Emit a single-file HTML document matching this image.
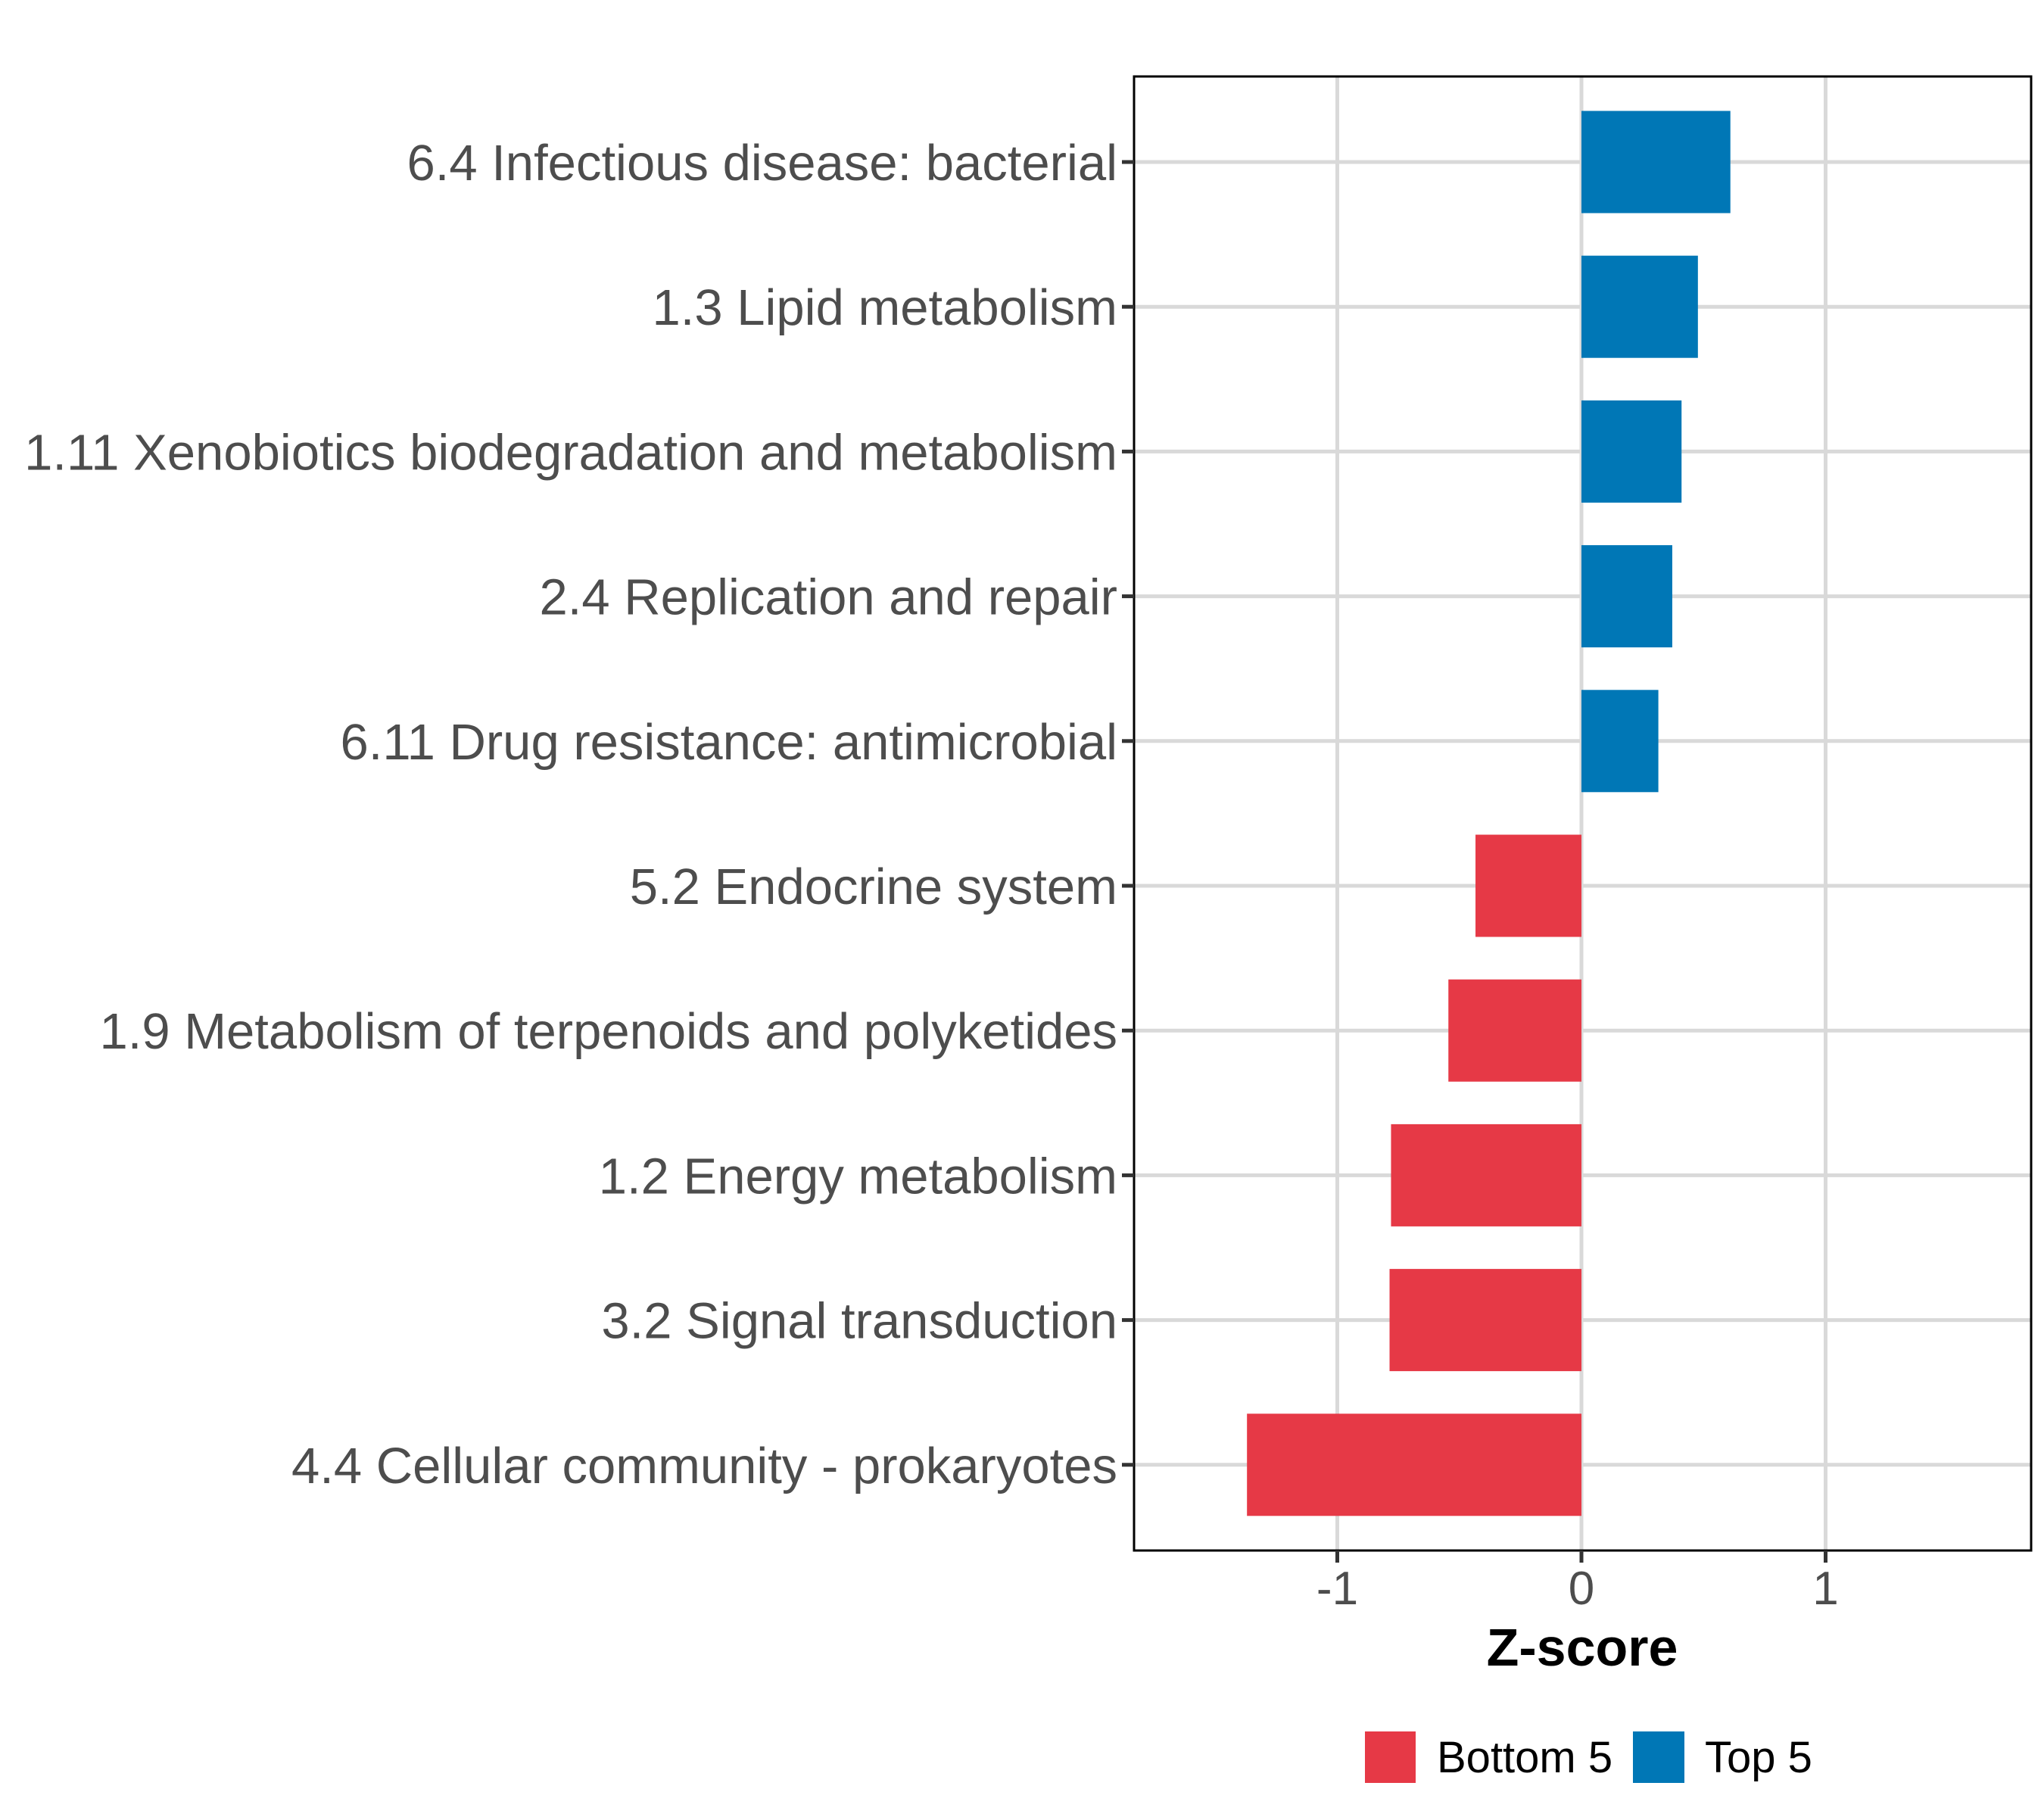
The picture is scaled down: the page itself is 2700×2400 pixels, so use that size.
<!DOCTYPE html>
<html><head><meta charset="utf-8"><style>
html,body{margin:0;padding:0;background:#fff;}
svg{display:block;font-family:"Liberation Sans",Arial,sans-serif;}
</style></head><body>
<svg id="chart" width="2700" height="2400" viewBox="0 0 2700 2400">
<rect x="0" y="0" width="2700" height="2400" fill="#fff"/>
<g id="grid"></g>
<g id="bars"></g>
<rect x="1498" y="101" width="1185" height="1947" fill="none" stroke="#000" stroke-width="3"/>
<g id="yaxis"></g>
<g id="xaxis"></g>
<text x="2090" y="2200" text-anchor="middle" font-size="70" font-weight="bold" fill="#000">Z-score</text>
<g>
<rect x="1803" y="2287" width="67" height="68" fill="#E63946"/>
<text x="1898" y="2341" font-size="58" fill="#000">Bottom 5</text>
<rect x="2157" y="2287" width="68" height="68" fill="#0077B6"/>
<text x="2252" y="2341" font-size="58" fill="#000">Top 5</text>
</g>
</svg>
<script>
const categories = ["6.4 Infectious disease: bacterial","1.3 Lipid metabolism","1.11 Xenobiotics biodegradation and metabolism","2.4 Replication and repair","6.11 Drug resistance: antimicrobial","5.2 Endocrine system","1.9 Metabolism of terpenoids and polyketides","1.2 Energy metabolism","3.2 Signal transduction","4.4 Cellular community - prokaryotes"];
const zscores = [0.61, 0.477, 0.41, 0.372, 0.315, -0.434, -0.545, -0.78, -0.786, -1.37];
const groups = ["Top 5","Top 5","Top 5","Top 5","Top 5","Bottom 5","Bottom 5","Bottom 5","Bottom 5","Bottom 5"];
const xTicks = [-1, 0, 1];
const xTickLabels = ["-1","0","1"];

const NS = "http://www.w3.org/2000/svg";
const PL = 1498, PR = 2683, PT = 101, PB = 2048;
const X0 = 2089, UNIT = 322.5;
function xs(v){ return X0 + v * UNIT; }
function ys(i){ return 214 + i * 191.2; }
const BAR_H = 135;
const colors = {"Top 5":"#0077B6","Bottom 5":"#E63946"};
function mk(tag, attrs, parent){ const e=document.createElementNS(NS,tag); for(const k in attrs) e.setAttribute(k,attrs[k]); parent.appendChild(e); return e; }

const grid = document.getElementById('grid');
const bars = document.getElementById('bars');
const yaxis = document.getElementById('yaxis');
const xaxis = document.getElementById('xaxis');

xTicks.forEach((t, i) => {
  const g = mk('line', {x1:xs(t), x2:xs(t), y1:PT, y2:PB, stroke:'#d9d9d9', 'stroke-width':5}, grid);
  
  
  const tk = mk('line', {x1:xs(t), x2:xs(t), y1:PB, y2:PB+16, stroke:'#333', 'stroke-width':5}, xaxis);
  
  
  const lb = mk('text', {x:xs(t), y:2119, 'text-anchor':'middle', 'font-size':62, fill:'#4d4d4d'}, xaxis);
  lb.textContent = xTickLabels[i];
  
  
});

categories.forEach((c, i) => {
  const y = ys(i);
  const gl = mk('line', {x1:PL, x2:PR, y1:y, y2:y, stroke:'#d9d9d9', 'stroke-width':5}, grid);
  
  
  const v = zscores[i];
  const x1 = Math.min(xs(0), xs(v)), w = Math.abs(xs(v) - xs(0));
  const r = mk('rect', {x:x1, y:y - BAR_H/2, width:w, height:BAR_H, fill:colors[groups[i]]}, bars);
  
  
  const tk = mk('line', {x1:PL-16, x2:PL, y1:y, y2:y, stroke:'#333', 'stroke-width':5}, yaxis);
  
  
  const lb = mk('text', {x:1476, y:y+24, 'text-anchor':'end', 'font-size':67, fill:'#4d4d4d'}, yaxis);
  lb.textContent = c;
  
  
});
</script>
</body></html>
